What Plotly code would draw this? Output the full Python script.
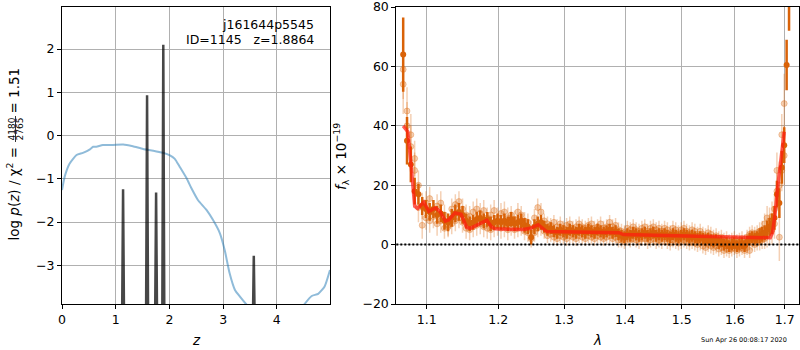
import plotly.graph_objects as go

# ---------------- redshift panel data ----------------
# chi^2-based curve (scaled) on the redshift grid
chi_z = [0.00, 0.05, 0.14, 0.27, 0.39, 0.52, 0.58, 0.64, 0.76, 0.95, 1.14, 1.32, 1.51,
         1.70, 1.88, 2.01, 2.10, 2.19, 2.32, 2.41, 2.53, 2.69, 2.81, 2.94, 3.03, 3.12,
         3.22, 3.31, 3.43, 3.55, 3.80, 4.10, 4.40, 4.52, 4.65, 4.77, 4.89, 4.99]
chi_logp = [-1.26, -0.95, -0.65, -0.45, -0.40, -0.32, -0.26, -0.26, -0.22, -0.22, -0.21,
            -0.25, -0.31, -0.35, -0.40, -0.46, -0.54, -0.72, -0.99, -1.22, -1.49, -1.72,
            -1.95, -2.26, -2.65, -3.18, -3.57, -3.72, -3.90, -4.05, -4.30, -4.40, -4.10,
            -3.89, -3.71, -3.66, -3.49, -3.11]

# log p(z) peaks (each spike: base, peak, base)
pz_z = [1.117, 1.137, 1.157, None, 1.564, 1.584, 1.604, None, 1.732, 1.752, 1.772, None,
        1.866, 1.886, 1.906, None, 3.551, 3.571, 3.591]
pz_logp = [-4.6, -1.24, -4.6, None, -4.6, 0.93, -4.6, None, -4.6, -1.32, -4.6, None,
           -4.6, 2.10, -4.6, None, -4.6, -2.78, -4.6]

z_ticks = [0, 1, 2, 3, 4]
logp_ticks = [-3, -2, -1, 0, 1, 2]
logp_ticktext = ["\u22123", "\u22122", "\u22121", "0", "1", "2"]

# ---------------- spectrum panel data ----------------
wave = [1.069, 1.074, 1.079, 1.084, 1.089, 1.094, 1.099, 1.104, 1.109, 1.114,
        1.119, 1.124, 1.129, 1.134, 1.139, 1.144, 1.149, 1.154, 1.159, 1.164,
        1.169, 1.174, 1.179, 1.184, 1.189, 1.194, 1.199, 1.204, 1.209, 1.214,
        1.219, 1.224, 1.229, 1.234, 1.239, 1.244, 1.249, 1.254, 1.259, 1.264,
        1.269, 1.274, 1.279, 1.284, 1.289, 1.294, 1.299, 1.304, 1.309, 1.314,
        1.319, 1.324, 1.329, 1.334, 1.339, 1.344, 1.349, 1.354, 1.359, 1.364,
        1.369, 1.374, 1.379, 1.384, 1.389, 1.394, 1.399, 1.404, 1.409, 1.414,
        1.419, 1.424, 1.429, 1.434, 1.439, 1.444, 1.449, 1.454, 1.459, 1.464,
        1.469, 1.474, 1.479, 1.484, 1.489, 1.494, 1.499, 1.504, 1.509, 1.514,
        1.519, 1.524, 1.529, 1.534, 1.539, 1.544, 1.549, 1.554, 1.559, 1.564,
        1.569, 1.574, 1.579, 1.584, 1.589, 1.594, 1.599, 1.604, 1.609, 1.614,
        1.619, 1.624, 1.629, 1.634, 1.639, 1.644, 1.649, 1.654, 1.659, 1.664,
        1.669, 1.674, 1.679, 1.684, 1.689, 1.694, 1.699, 1.704, 1.709]

# combined spectrum (dark points)
flux = [64, 35, 27, 18, 17, 13, 12, 11, 12, 10,
        10.5, 8, 7.5, 9, 10.5, 11, 10, 8, 7, 7.5,
        8.5, 9, 8, 8.5, 7, 7.5, 8, 7.5, 8, 7,
        8.5, 7, 7.5, 8, 6.5, 6, 2.5, 6, 7, 7.5,
        6, 5, 5.5, 4.5, 4, 5, 4.5, 4, 5, 4.5,
        4, 5, 4.5, 4, 5, 4.5, 4, 5, 4.5, 4,
        4.5, 5, 4, 4.5, 3.5, 3, 2.5, 3.5, 3, 4,
        3.5, 3, 3.5, 4, 3, 3.5, 4, 3, 3.5, 3,
        3.5, 3, 2.5, 3.5, 3, 2.5, 3, 3.5, 3, 2.5,
        3, 2.5, 2, 2.5, 2, 1.5, 2, 1.5, 1, 1.5,
        0.5, 1, 0, 0.5, -0.5, 0, 0.5, -0.5, 0, 0.5,
        -0.5, 1, 2, 2.5, 2, 2.5, 3, 3.5, 4, 5,
        6, 7, 9, 17, 14, 26, 33.5, 60.5, 83]
flux_err = [12.5, 8, 6, 4.5, 3.5, 3, 3, 3, 3, 3,
            3, 3, 3, 3, 3, 3, 3, 2.5, 2.5, 2.5,
            2.5, 2.5, 2.5, 2.5, 2.5, 2.5, 2.5, 2.5, 2.5, 2.5,
            2.5, 2.5, 2.5, 2.5, 2.5, 2.5, 2.5, 2.5, 2.5, 2.5,
            2, 2, 2, 2, 2, 2, 2, 2, 2, 2,
            2, 2, 2, 2, 2, 2, 2, 2, 2, 2,
            2, 2, 2, 2, 2, 2, 2, 2, 2, 2,
            2, 2, 2, 2, 2, 2, 2, 2, 2, 2,
            2, 2, 2, 2, 2, 2, 2, 2, 2, 2,
            2, 2, 2, 2, 2, 2, 2, 2, 2, 2,
            2, 2, 2, 2, 2, 2, 2, 2, 2, 2,
            2, 2, 2, 2, 2, 2, 2.5, 2.5, 2.5, 3,
            3, 3.5, 4, 4.5, 5, 5.5, 6, 8.5, 11]

# individual exposures (light points)
flux_a = [59, 45, 37, 29, 20, 6.5, 14, 15.5, 11, 13,
          14, 10, 6, 12, 13.5, 14.5, 12, 10, 9.5, 11,
          12, 10.5, 11.5, 9, 10, 11.5, 9, 10.5, 11, 9,
          10, 8.5, 11, 10, 8, 7.5, 5, 9, 12.5, 11,
          8, 7, 6.5, 7.5, 6, 7, 5.5, 6.5, 7, 5.5,
          6, 7, 6, 5.5, 6.5, 7, 5.5, 6, 7, 5.5,
          6, 7.5, 6, 6.5, 5, 4.5, 4, 5.5, 5, 6,
          5, 4.5, 5.5, 6, 4.5, 5.5, 6, 5, 5.5, 4.5,
          5.5, 5, 4, 5.5, 5, 4, 5, 5.5, 4.5, 4,
          5, 4.5, 3.5, 4.5, 3.5, 3, 4, 3.5, 2.5, 3,
          2, 2.5, 1.5, 2, 1, 1.5, 2, 1, 1.5, 2,
          1, 2.5, 3.5, 4, 3.5, 4, 4.5, 5, 7, 9,
          8, 9.5, 12, 25, 2.5, 37, 47.5, None, None]
flux_b = [54, 40, 33, 25, 12.5, 13, 9, 8, 9.5, 7,
          8, 5.5, 6.5, 7, 8, 9, 7.5, 5.5, 5, 6,
          6.5, 7, 6, 5.5, 5, 6, 6.5, 5.5, 6, 5,
          6, 5, 5.5, 6, 4.5, 4, 2, 4, 5.5, 6,
          4.5, 3, 3.5, 2.5, 2, 3, 2.5, 2, 3, 2.5,
          2, 3, 2.5, 2, 3, 2.5, 2, 3, 2.5, 2,
          2.5, 3, 2, 2.5, 1.5, 1.5, 1, 2, 1.5, 2,
          1.5, 1, 2, 2, 1, 1.5, 2, 1, 1.5, 1,
          2, 1, 0.5, 1.5, 1, 0.5, 1, 1.5, 1, 0.5,
          1, 0.5, 0, 0.5, -0.5, -1, 0, -0.5, -1, -0.5,
          -1.5, -1, -2, -1.5, -2, -1.5, -1, -2, -1.5, -1,
          -2, -1, -2, 0.5, 0, 0.5, 1, 1.5, 2, 3,
          4.5, 5, 7, 18, 20, 25, 30, None, None]
flux_ab_err = [10, 8, 7, 6, 5, 4.5, 4, 4, 4, 4,
               4, 3.5, 3.5, 3.5, 3.5, 3.5, 3.5, 3.5, 3.5, 3.5,
               3.5, 3.5, 3.5, 3.5, 3.5, 3.5, 3.5, 3.5, 3.5, 3.5,
               3, 3, 3, 3, 3, 3, 3, 3, 3, 3,
               2.5, 2.5, 2.5, 2.5, 2.5, 2.5, 2.5, 2.5, 2.5, 2.5,
               2.5, 2.5, 2.5, 2.5, 2.5, 2.5, 2.5, 2.5, 2.5, 2.5,
               2.5, 2.5, 2.5, 2.5, 2.5, 2.5, 2.5, 2.5, 2.5, 2.5,
               2.5, 2.5, 2.5, 2.5, 2.5, 2.5, 2.5, 2.5, 2.5, 2.5,
               2.5, 2.5, 2.5, 2.5, 2.5, 2.5, 2.5, 2.5, 2.5, 2.5,
               2.5, 2.5, 2.5, 2.5, 2.5, 2.5, 2.5, 2.5, 2.5, 2.5,
               2.5, 2.5, 2.5, 2.5, 2.5, 2.5, 2.5, 2.5, 2.5, 2.5,
               2.5, 2.5, 2.5, 2.5, 2.5, 2.5, 3, 3, 3.5, 4,
               4.5, 5, 5, 6, 8, 7, 10, 0, 0]

# best-fit model
model_wave = [1.069, 1.075, 1.0795, 1.0841, 1.0880, 1.0960, 1.1030, 1.1118, 1.1180, 1.1251,
              1.1300, 1.1386, 1.1470, 1.1548, 1.1600, 1.1700, 1.1834, 1.1900, 1.1950, 1.2150,
              1.2372, 1.2480, 1.2597, 1.2728, 1.3000, 1.3500, 1.3900, 1.3971, 1.4500, 1.5000,
              1.5500, 1.6000, 1.6500, 1.6704, 1.6750, 1.6800, 1.6860, 1.6900, 1.6950, 1.6990]
model_flux = [40.0, 38.0, 26.4, 12.9, 12.2, 14.3, 11.2, 12.4, 11.2, 7.9,
              8.4, 10.7, 10.2, 5.8, 5.5, 6.7, 8.2, 6.0, 5.3, 5.2,
              5.1, 5.5, 6.7, 4.4, 4.3, 4.1, 4.0, 3.4, 3.2, 3.0,
              2.8, 2.5, 2.3, 2.3, 4.0, 10.0, 20.0, 26.0, 31.0, 38.0]

wave_ticks = [1.1, 1.2, 1.3, 1.4, 1.5, 1.6, 1.7]
flux_ticks = [-20, 0, 20, 40, 60, 80]
flux_ticktext = ["\u221220", "0", "20", "40", "60", "80"]

# ---------------- figure ----------------
W, H = 800, 350
FONT = "DejaVu Sans"
ORANGE = "rgb(217,98,8)"
ORANGE_LIGHT = "rgba(217,98,8,0.3)"


def px(x):
    return x / W


def py(y):
    return 1 - y / H


fig = go.Figure()

fig.add_trace(go.Scatter(x=chi_z, y=chi_logp, mode="lines", xaxis="x", yaxis="y",
                         line=dict(color="rgba(31,119,180,0.5)", width=2, shape="spline",
                                   smoothing=0.5),
                         showlegend=False, hoverinfo="skip"))
fig.add_trace(go.Scatter(x=pz_z, y=pz_logp, mode="lines", xaxis="x", yaxis="y",
                         line=dict(color="rgba(0,0,0,0.72)", width=2.5),
                         connectgaps=False, showlegend=False, hoverinfo="skip"))

for fl in (flux_a, flux_b):
    fig.add_trace(go.Scatter(
        x=wave, y=fl, mode="markers", xaxis="x2", yaxis="y2",
        marker=dict(size=6, color=ORANGE_LIGHT, line=dict(color=ORANGE_LIGHT, width=1)),
        error_y=dict(type="data", array=flux_ab_err, visible=True, color=ORANGE_LIGHT,
                     thickness=1.5, width=0),
        showlegend=False, hoverinfo="skip", cliponaxis=True))

fig.add_trace(go.Scatter(
    x=wave, y=flux, mode="markers", xaxis="x2", yaxis="y2",
    marker=dict(size=6, color=ORANGE),
    error_y=dict(type="data", array=flux_err, visible=True, color=ORANGE,
                 thickness=2.5, width=0),
    showlegend=False, hoverinfo="skip", cliponaxis=True))

fig.add_trace(go.Scatter(x=model_wave, y=model_flux, mode="lines", xaxis="x2", yaxis="y2",
                         line=dict(color="rgba(255,25,15,0.7)", width=3.5),
                         showlegend=False, hoverinfo="skip"))

axis_common = dict(showgrid=True, gridcolor="#b0b0b0", gridwidth=1, zeroline=False,
                   showline=True, linecolor="black", linewidth=1, mirror=True,
                   ticks="outside", ticklen=4, tickcolor="black", tickwidth=1,
                   ticklabeloverflow="allow",
                   tickfont=dict(family=FONT, size=12.5, color="black"), automargin=False)

fig.update_layout(
    width=W, height=H, margin=dict(l=0, r=0, t=0, b=0),
    paper_bgcolor="white", plot_bgcolor="white", template="none",
    font=dict(family=FONT, color="black"),
    xaxis=dict(domain=[px(62), px(330)], range=[0, 4.99], anchor="y",
               tickvals=z_ticks, **axis_common),
    yaxis=dict(domain=[py(304), py(7)], range=[-3.895, 2.971], anchor="x",
               tickvals=logp_ticks, ticktext=logp_ticktext, **axis_common),
    xaxis2=dict(domain=[px(396.3), px(799.3)], type="log", range=[0.02534, 0.23816],
                anchor="y2", tickvals=wave_ticks, ticktext=[str(v) for v in wave_ticks],
                **axis_common),
    yaxis2=dict(domain=[py(304), py(7)], range=[-20, 80.02], anchor="x2",
                tickvals=flux_ticks, ticktext=flux_ticktext, **axis_common),
)

# zero level in the spectrum panel
fig.add_shape(type="line", xref="x2 domain", yref="y2", x0=0, x1=1, y0=0, y1=0,
              line=dict(color="black", width=2, dash="2px,2px"))

ann = []
# object name / redshift in the p(z) panel
ann.append(dict(text="j161644p5545", x=px(316), y=py(24), xanchor="right", yanchor="middle",
                font=dict(size=12.5)))
ann.append(dict(text="ID=1145\u00a0\u00a0\u00a0z=1.8864", x=px(316), y=py(39), xanchor="right",
                yanchor="middle", font=dict(size=12.5)))
# axis labels
ann.append(dict(text="<i>z</i>", x=px(196), y=py(340), xanchor="center", yanchor="middle",
                font=dict(size=13.5)))
ann.append(dict(text="<i>\u03bb</i>", x=px(597), y=py(340), xanchor="center", yanchor="middle",
                font=dict(size=13.5)))
ann.append(dict(text="log <i>p</i>(<i>z</i>) / \u03c7<sup>2</sup> =", x=px(13.5), y=py(194),
                textangle=-90, xanchor="center", yanchor="middle", font=dict(size=13.5)))
ann.append(dict(text="4180", x=px(11.5), y=py(129), textangle=-90, xanchor="center",
                yanchor="middle", font=dict(size=9)))
ann.append(dict(text="2765", x=px(19.5), y=py(129), textangle=-90, xanchor="center",
                yanchor="middle", font=dict(size=9)))
ann.append(dict(text="= 1.51", x=px(13.5), y=py(91), textangle=-90, xanchor="center",
                yanchor="middle", font=dict(size=13.5)))
ann.append(dict(text="<i>f</i><sub>\u03bb</sub> \u00d7 10<sup>\u221219</sup>", x=px(341),
                y=py(157), textangle=-90, xanchor="center", yanchor="middle",
                font=dict(size=13.5)))
# timestamp
ann.append(dict(text="Sun Apr 26 00:08:17 2020", x=px(789), y=py(340), xanchor="right",
                yanchor="middle", font=dict(size=6.5)))

for a in ann:
    a.update(xref="paper", yref="paper", showarrow=False)
    a["font"] = dict(family=FONT, color="black", **a["font"])
fig.update_layout(annotations=ann)

# fraction bar of the chi^2 ratio
fig.add_shape(type="line", xref="paper", yref="paper", x0=px(15.5), x1=px(15.5),
              y0=py(116), y1=py(142), line=dict(color="black", width=0.8))

fig.write_html("out.html")
